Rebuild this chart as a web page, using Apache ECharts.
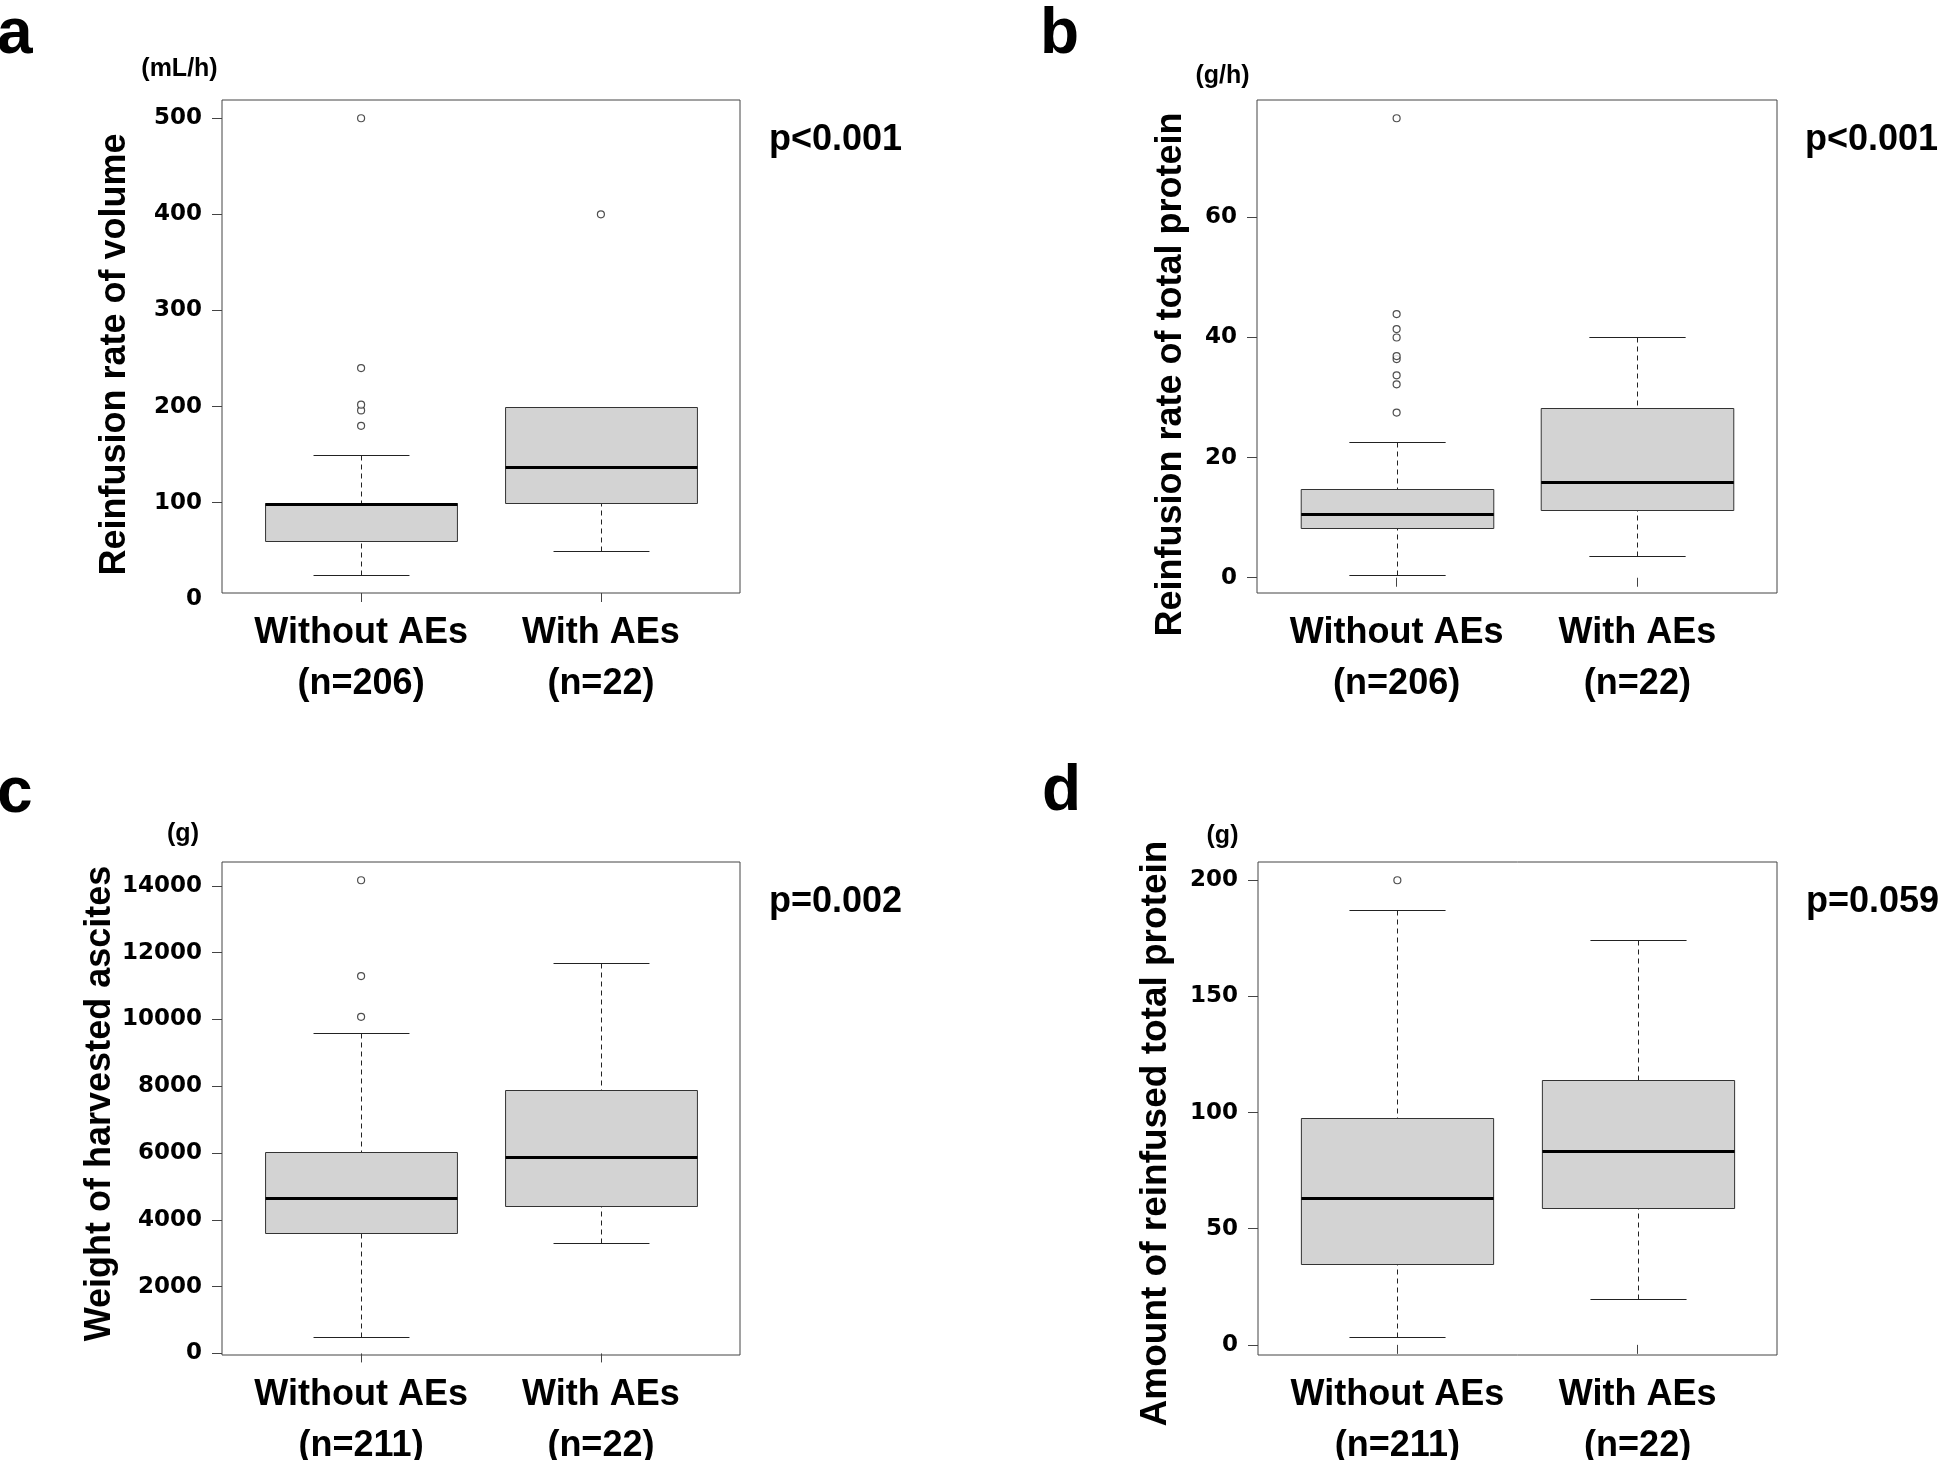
<!DOCTYPE html>
<html><head><meta charset="utf-8">
<script src="https://cdn.jsdelivr.net/npm/echarts@6/dist/echarts.min.js"></script>
<style>html,body{margin:0;padding:0;background:#fff}#chart{width:1951px;height:1460px}</style>
</head><body><div id="chart"></div>
<script>
// ---------------- DATA ----------------
const categories = ['Without AEs', 'With AEs'];
const nRate = [206, 22];
const nAmount = [211, 22];

// each box: [lower whisker, Q1, median, Q3, upper whisker]
// Panel a – reinfusion rate of volume (mL/h)
const volumeBoxWithout = [25, 60, 99, 100, 150];
const volumeBoxWith = [50, 100, 137, 200, 200];
const volumeOutWithout = [180, 196, 202, 240, 500];
const volumeOutWith = [400];
const volumeTicks = [100, 200, 300, 400, 500];

// Panel b – reinfusion rate of total protein (g/h)
const protRateBoxWithout = [0.5, 8.3, 10.6, 14.7, 22.6];
const protRateBoxWith = [3.7, 11.3, 15.9, 28.3, 40.0];
const protRateOutWithout = [27.5, 32.2, 33.7, 36.4, 36.9, 40.0, 41.4, 43.9, 76.5];
const protRateOutWith = [];
const protRateTicks = [0, 20, 40, 60];

// Panel c – weight of harvested ascites (g)
const ascitesBoxWithout = [500, 3600, 4650, 6020, 9600];
const ascitesBoxWith = [3300, 4420, 5890, 7900, 11700];
const ascitesOutWithout = [10080, 11300, 14170];
const ascitesOutWith = [];
const ascitesTicks = [0, 2000, 4000, 6000, 8000, 10000, 12000, 14000];

// Panel d – amount of reinfused total protein (g)
const protAmtBoxWithout = [3.5, 34.9, 63.3, 97.8, 187.3];
const protAmtBoxWith = [19.8, 58.8, 83.4, 114.1, 174.2];
const protAmtOutWithout = [200];
const protAmtOutWith = [];
const protAmtTicks = [0, 50, 100, 150, 200];

const panelLetters = ['a', 'b', 'c', 'd'];
const yTitles = ['Reinfusion rate of volume', 'Reinfusion rate of total protein',
  'Weight of harvested ascites', 'Amount of reinfused total protein'];
const units = ['(mL/h)', '(g/h)', '(g)', '(g)'];
const pValues = ['p<0.001', 'p<0.001', 'p=0.002', 'p=0.059'];

// ---------------- LAYOUT ----------------
const FONT = 'Liberation Sans, Arial, sans-serif';
const TICKFONT = 'DejaVu Sans, sans-serif';
const layout = [
  { grid: { left: 222, top: 100, width: 518, height: 493 }, nameGap: 89, shift: 8, titleSize: 36, letter: [-3, 58], unit: [179.5, 78], p: [769, 153] },
  { grid: { left: 1257, top: 100, width: 520, height: 493 }, nameGap: 68, shift: 28, titleSize: 36, letter: [1040, 58], unit: [1222.5, 85], p: [1805, 153] },
  { grid: { left: 222, top: 862, width: 518, height: 493 }, nameGap: 95, shift: -5, titleSize: 36, letter: [-3, 817], unit: [183, 843], p: [769, 915] },
  { grid: { left: 1258, top: 862, width: 519, height: 493 }, nameGap: 84, shift: 25, titleSize: 37, letter: [1042, 815], unit: [1222.5, 845], p: [1806, 915] }
];

const panels = [
  { boxes: [volumeBoxWithout, volumeBoxWith], outs: [volumeOutWithout, volumeOutWith], ticks: volumeTicks, n: nRate },
  { boxes: [protRateBoxWithout, protRateBoxWith], outs: [protRateOutWithout, protRateOutWith], ticks: protRateTicks, n: nRate },
  { boxes: [ascitesBoxWithout, ascitesBoxWith], outs: [ascitesOutWithout, ascitesOutWith], ticks: ascitesTicks, n: nAmount },
  { boxes: [protAmtBoxWithout, protAmtBoxWith], outs: [protAmtOutWithout, protAmtOutWith], ticks: protAmtTicks, n: nAmount }
];

const BOX_WEX = 0.8;     // box width in category units (R default)
const STAPLE = 0.5;      // staple width relative to box
const xMin = 0.5 - 0.04 * categories.length;
const xMax = categories.length + 0.5 + 0.04 * categories.length;

function renderBox(params, api) {
  const x = api.value(0);
  const v = [1, 2, 3, 4, 5].map(i => api.value(i));
  const bw = api.size([BOX_WEX, 0])[0];
  const cw = bw * STAPLE;
  const cx = Math.round(api.coord([x, v[0]])[0]) + 0.5;
  const y = v.map(val => Math.round(api.coord([x, val])[1]) + 0.5);
  const dash = { stroke: '#222', lineWidth: 1, lineDash: [5, 4] };
  const solid = { stroke: '#222', lineWidth: 1 };
  return {
    type: 'group',
    children: [
      { type: 'line', shape: { x1: cx, y1: y[0], x2: cx, y2: y[1] }, style: dash },
      { type: 'line', shape: { x1: cx, y1: y[4], x2: cx, y2: y[3] }, style: dash },
      { type: 'line', shape: { x1: cx - cw / 2, y1: y[0], x2: cx + cw / 2, y2: y[0] }, style: solid },
      { type: 'line', shape: { x1: cx - cw / 2, y1: y[4], x2: cx + cw / 2, y2: y[4] }, style: solid },
      { type: 'rect', shape: { x: cx - bw / 2, y: y[3], width: bw, height: y[1] - y[3] }, style: { fill: '#d3d3d3', stroke: '#333', lineWidth: 1 } },
      { type: 'line', shape: { x1: cx - bw / 2, y1: y[2], x2: cx + bw / 2, y2: y[2] }, style: { stroke: '#000', lineWidth: 3 } }
    ]
  };
}

const grids = [], xAxes = [], yAxes = [], series = [], graphics = [];
panels.forEach((pn, i) => {
  const L = layout[i];
  const all = [].concat(...pn.boxes, ...pn.outs);
  const lo = Math.min(...all), hi = Math.max(...all);
  const pad = 0.04 * (hi - lo);
  grids.push(Object.assign({ show: true, borderColor: '#444', borderWidth: 1, backgroundColor: 'transparent',
    containLabel: false, outerBoundsMode: 'none' }, L.grid));
  xAxes.push({
    type: 'value', gridIndex: i, min: xMin, max: xMax,
    axisLine: { show: false }, splitLine: { show: false },
    axisTick: { show: true, length: 9, customValues: categories.map((c, k) => k + 1), lineStyle: { color: '#444' } },
    axisLabel: {
      customValues: categories.map((c, k) => k + 1),
      formatter: val => categories[Math.round(val) - 1] + '\n(n=' + pn.n[Math.round(val) - 1] + ')',
      margin: 15, fontFamily: FONT, fontWeight: 'bold', fontSize: 36, lineHeight: 51, color: '#000'
    }
  });
  const sh = L.shift;
  yAxes.push({
    type: 'value', gridIndex: i, min: lo - pad, max: hi + pad,
    axisLine: { show: false }, splitLine: { show: false },
    axisTick: { show: true, length: 10, customValues: pn.ticks, lineStyle: { color: '#444' } },
    axisLabel: { customValues: pn.ticks, formatter: val => String(val), margin: 20,
      fontFamily: TICKFONT, fontWeight: 'bold', fontSize: 23, color: '#000' },
    name: yTitles[i], nameLocation: 'middle', nameGap: L.nameGap, nameRotate: 90,
    nameTextStyle: { fontFamily: FONT, fontWeight: 'bold', fontSize: L.titleSize, lineHeight: L.titleSize, color: '#000',
      padding: sh >= 0 ? [0, 2 * sh, 0, 0] : [0, 0, 0, -2 * sh] }
  });
  series.push({
    type: 'custom', xAxisIndex: i, yAxisIndex: i, renderItem: renderBox,
    dimensions: ['x', 'low', 'q1', 'median', 'q3', 'high'],
    encode: { x: 0, y: [1, 2, 3, 4, 5] },
    data: pn.boxes.map((b, k) => [k + 1].concat(b)), silent: true
  });
  const outData = [];
  pn.outs.forEach((arr, k) => arr.forEach(val => outData.push([k + 1, val])));
  series.push({
    type: 'scatter', xAxisIndex: i, yAxisIndex: i, data: outData, symbol: 'circle', symbolSize: 7,
    itemStyle: { color: '#fff', borderColor: '#222', borderWidth: 1.2 }, silent: true, z: 5
  });
  graphics.push({ id: 'letter' + i, type: 'text', x: L.letter[0], y: L.letter[1] - 0.3465 * 64,
    style: { text: panelLetters[i], font: 'bold 64px ' + FONT, fill: '#000', align: 'left', verticalAlign: 'middle' } });
  graphics.push({ id: 'unit' + i, type: 'text', x: L.unit[0], y: L.unit[1] - 0.3465 * 25,
    style: { text: units[i], font: 'bold 25px ' + FONT, fill: '#000', align: 'center', verticalAlign: 'middle' } });
  graphics.push({ id: 'p' + i, type: 'text', x: L.p[0], y: L.p[1] - 0.3465 * 36,
    style: { text: pValues[i], font: 'bold 36px ' + FONT, fill: '#000', align: 'left', verticalAlign: 'middle' } });
});

const chart = echarts.init(document.getElementById('chart'), null, { renderer: 'canvas' });
chart.setOption({
  animation: false, backgroundColor: '#fff',
  grid: grids, xAxis: xAxes, yAxis: yAxes, series: series, graphic: { elements: graphics }
});
// panel a shows a "0" label just below its plotting range
const zeroPix = chart.convertToPixel({ gridIndex: 0 }, [xMin, 0]);
graphics.push({ id: 'zeroA', type: 'text', x: zeroPix[0] - 20, y: zeroPix[1],
  style: { text: '0', font: 'bold 23px ' + TICKFONT, fill: '#000', align: 'right', verticalAlign: 'middle' } });
chart.setOption({ graphic: { elements: graphics } });
</script></body></html>
